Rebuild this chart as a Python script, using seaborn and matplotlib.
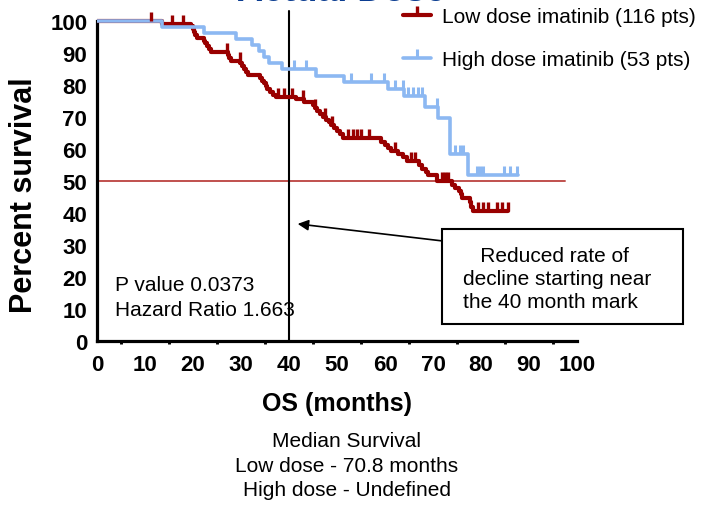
import numpy as np
import pandas as pd
import matplotlib
matplotlib.use("Agg")
import matplotlib.pyplot as plt
import seaborn as sns
from matplotlib.lines import Line2D
from matplotlib.patches import Rectangle

# Kaplan-Meier curves: event times (months) and percent surviving after each event
low_event_months = [13.5, 19.5, 19.9, 20.2, 20.5, 20.8, 22.3, 22.6, 23.0, 23.4, 23.8,
                    27.2, 27.5, 27.9, 29.8, 30.2, 30.6, 31.0, 31.4,
                    33.9, 34.3, 34.7, 35.1, 35.5, 36.0, 36.6, 37.3,
                    41.4, 43.2, 44.9, 45.4, 45.9, 46.4, 47.0, 47.8, 48.3, 48.8,
                    49.4, 50.0, 50.6, 51.2, 59.2, 60.0, 60.6, 61.2, 62.7, 63.8,
                    64.6, 67.0, 67.6, 68.6, 69.0, 70.8, 74.0, 74.6, 75.5, 75.8,
                    76.0, 77.7, 78.0, 78.3]
low_survival = [99.1, 98.3, 97.4, 96.5, 95.6, 94.8, 93.9, 93.0, 92.1, 91.3, 90.4,
                89.4, 88.5, 87.6, 86.8, 85.9, 85.0, 84.1, 83.2,
                82.3, 81.4, 80.6, 79.7, 78.8, 77.9, 77.0, 76.4,
                75.6, 74.6, 73.7, 72.8, 71.9, 70.9, 70.0, 69.2, 68.3, 67.4,
                66.5, 65.7, 64.8, 63.4, 62.3, 61.3, 60.4, 59.5, 58.5, 57.4,
                56.1, 55.0, 53.9, 52.8, 51.9, 49.9, 48.9, 47.9, 46.9, 45.8,
                44.7, 43.3, 42.0, 40.7]
low_censored_months = [11.3, 15.7, 18.0, 27.1, 29.7, 37.8, 39.0, 40.6, 43.0, 45.5,
                       47.5, 49.0, 52.2, 53.3, 54.2, 55.0, 56.6, 62.0, 65.5, 66.2,
                       71.8, 72.4, 73.1, 79.4, 80.5, 81.5, 83.3, 84.3, 85.6]
low_last_followup = 85.7

high_event_months = [13.5, 22.2, 29.0, 32.3, 33.7, 34.8, 35.9, 38.6, 45.6, 51.5,
                     60.7, 63.9, 68.3, 71.1, 73.5, 77.3]
high_survival = [98.1, 96.2, 94.3, 92.5, 90.6, 88.7, 86.8, 84.9, 82.9, 80.8,
                 78.7, 76.5, 73.0, 69.6, 58.3, 51.8]
high_censored_months = [41.1, 43.5, 52.9, 57.0, 59.8, 62.0, 63.7, 64.8, 65.8, 66.9,
                        67.6, 70.9, 74.6, 75.6, 76.2, 79.1, 79.8, 80.5, 84.7, 86.0, 87.4]
high_last_followup = 87.8

x_ticks = list(range(0, 101, 10))
y_ticks = list(range(0, 101, 10))

low_label = "Low dose imatinib (116 pts)"
high_label = "High dose imatinib (53 pts)"
low_color = "#990000"
high_color = "#8cb8f2"


def km_frame(times, surv, last):
    t = [0.0] + list(times) + [last]
    s = [100.0] + list(surv) + [surv[-1]]
    return pd.DataFrame({"months": t, "survival": s})


def level_at(times, surv, query):
    idx = np.searchsorted(np.asarray(times), np.asarray(query), side="right")
    levels = np.concatenate([[100.0], np.asarray(surv)])
    return levels[idx]


sns.set_theme(style="white")
plt.rcParams["font.family"] = ["Liberation Sans", "DejaVu Sans"]
plt.rcParams.update({"text.color": "black", "axes.labelcolor": "black",
                     "xtick.color": "black", "ytick.color": "black"})

fig = plt.figure(figsize=(7.17, 5.06), dpi=100)
ax = fig.add_axes([0.1353, 0.3241, 0.6695, 0.6545])

low_df = km_frame(low_event_months, low_survival, low_last_followup)
high_df = km_frame(high_event_months, high_survival, high_last_followup)

sns.lineplot(data=low_df, x="months", y="survival", ax=ax, color=low_color,
             lw=3.0, drawstyle="steps-post", sort=False, estimator=None, zorder=3)
sns.lineplot(data=high_df, x="months", y="survival", ax=ax, color=high_color,
             lw=2.6, drawstyle="steps-post", sort=False, estimator=None, zorder=4)

# censor ticks
ax.plot(low_censored_months, level_at(low_event_months, low_survival, low_censored_months),
        linestyle="none", marker=2, markersize=6.5, mew=2.4, color=low_color, zorder=5)
ax.plot(high_censored_months, level_at(high_event_months, high_survival, high_censored_months),
        linestyle="none", marker=2, markersize=6.5, mew=2.2, color=high_color, zorder=5)

# reference lines: median level and 40-month mark
ax.plot([0, 97.5], [50, 50], color="#c0504d", lw=1.4, zorder=2)
ax.plot([40, 40], [0, 103.1], color="black", lw=1.5, zorder=2, clip_on=False)

ax.set_xlim(0, 100)
ax.set_ylim(0, 103.5)
ax.set_xticks(x_ticks)
ax.set_yticks(y_ticks)
ax.set_xticks(np.arange(5, 100, 10), minor=True)
for side in ("top", "right"):
    ax.spines[side].set_visible(False)
for side in ("left", "bottom"):
    ax.spines[side].set_linewidth(2.3)
    ax.spines[side].set_color("black")
ax.spines["left"].set_bounds(0, 100)
ax.spines["bottom"].set_bounds(0, 100)
ax.tick_params(axis="both", which="major", direction="out", length=5, width=2.1,
               color="black", labelcolor="black", labelsize=16, pad=2)
ax.tick_params(axis="x", which="minor", direction="out", length=2.5, width=2.1,
               color="black", bottom=True)
ax.tick_params(axis="x", which="major", pad=4)
for lab in ax.get_xticklabels() + ax.get_yticklabels():
    lab.set_fontweight("bold")

ax.set_xlabel("OS (months)", fontsize=18, fontweight="bold", color="black")
ax.xaxis.label.set_va("center")
ax.xaxis.set_label_coords(0.5, -0.187)
ax.set_ylabel("Percent survival", fontsize=22, fontweight="bold", color="black")
ax.yaxis.label.set_va("center")
ax.yaxis.set_label_coords(-0.152, 0.444)

ax.text(3.8, 17.8, "P value 0.0373", fontsize=15, va="center", ha="left", color="black")
ax.text(3.8, 10.0, "Hazard Ratio 1.663", fontsize=15, va="center", ha="left", color="black")

# callout box with arrow toward the 40-month line
ax.annotate("", xy=(41.8, 36.6), xytext=(71.8, 31.3),
            arrowprops=dict(arrowstyle="-|>", color="black", lw=1.2,
                            mutation_scale=16, shrinkA=0, shrinkB=0),
            annotation_clip=False)
ax.add_patch(Rectangle((71.8, 5.3), 50.2, 29.7, facecolor="white", edgecolor="black",
                       lw=1.5, clip_on=False, zorder=6))
ax.text(76.3, 19.5, "   Reduced rate of\ndecline starting near\nthe 40 month mark",
        fontsize=15, ha="left", va="center", linespacing=1.28, zorder=7, clip_on=False,
        color="black")

handles = [Line2D([0], [0], color=low_color, lw=3.0, marker=2, markersize=6.5, mew=2.4),
           Line2D([0], [0], color=high_color, lw=2.6, marker=2, markersize=6.5, mew=2.2)]
leg = fig.legend(handles, [low_label, high_label], loc="upper left",
                 bbox_to_anchor=(403 / 717, 1 - 8 / 506), frameon=False, fontsize=15,
                 handlelength=1.35, handletextpad=0.5, labelspacing=1.15,
                 borderpad=0, borderaxespad=0)
for t in leg.get_texts():
    t.set_color("black")

fig.text(341 / 717, 1 - 1 / 506, "Actual Dose", fontsize=26, fontweight="bold",
         color="#0b3d91", ha="center", va="baseline")

for text, ypix in [("Median Survival", 441.7), ("Low dose - 70.8 months", 466.3),
                   ("High dose - Undefined", 490.5)]:
    fig.text(346.7 / 717, 1 - ypix / 506, text, fontsize=15, ha="center", va="center",
             color="black")

fig.savefig("out.png", dpi=100)
